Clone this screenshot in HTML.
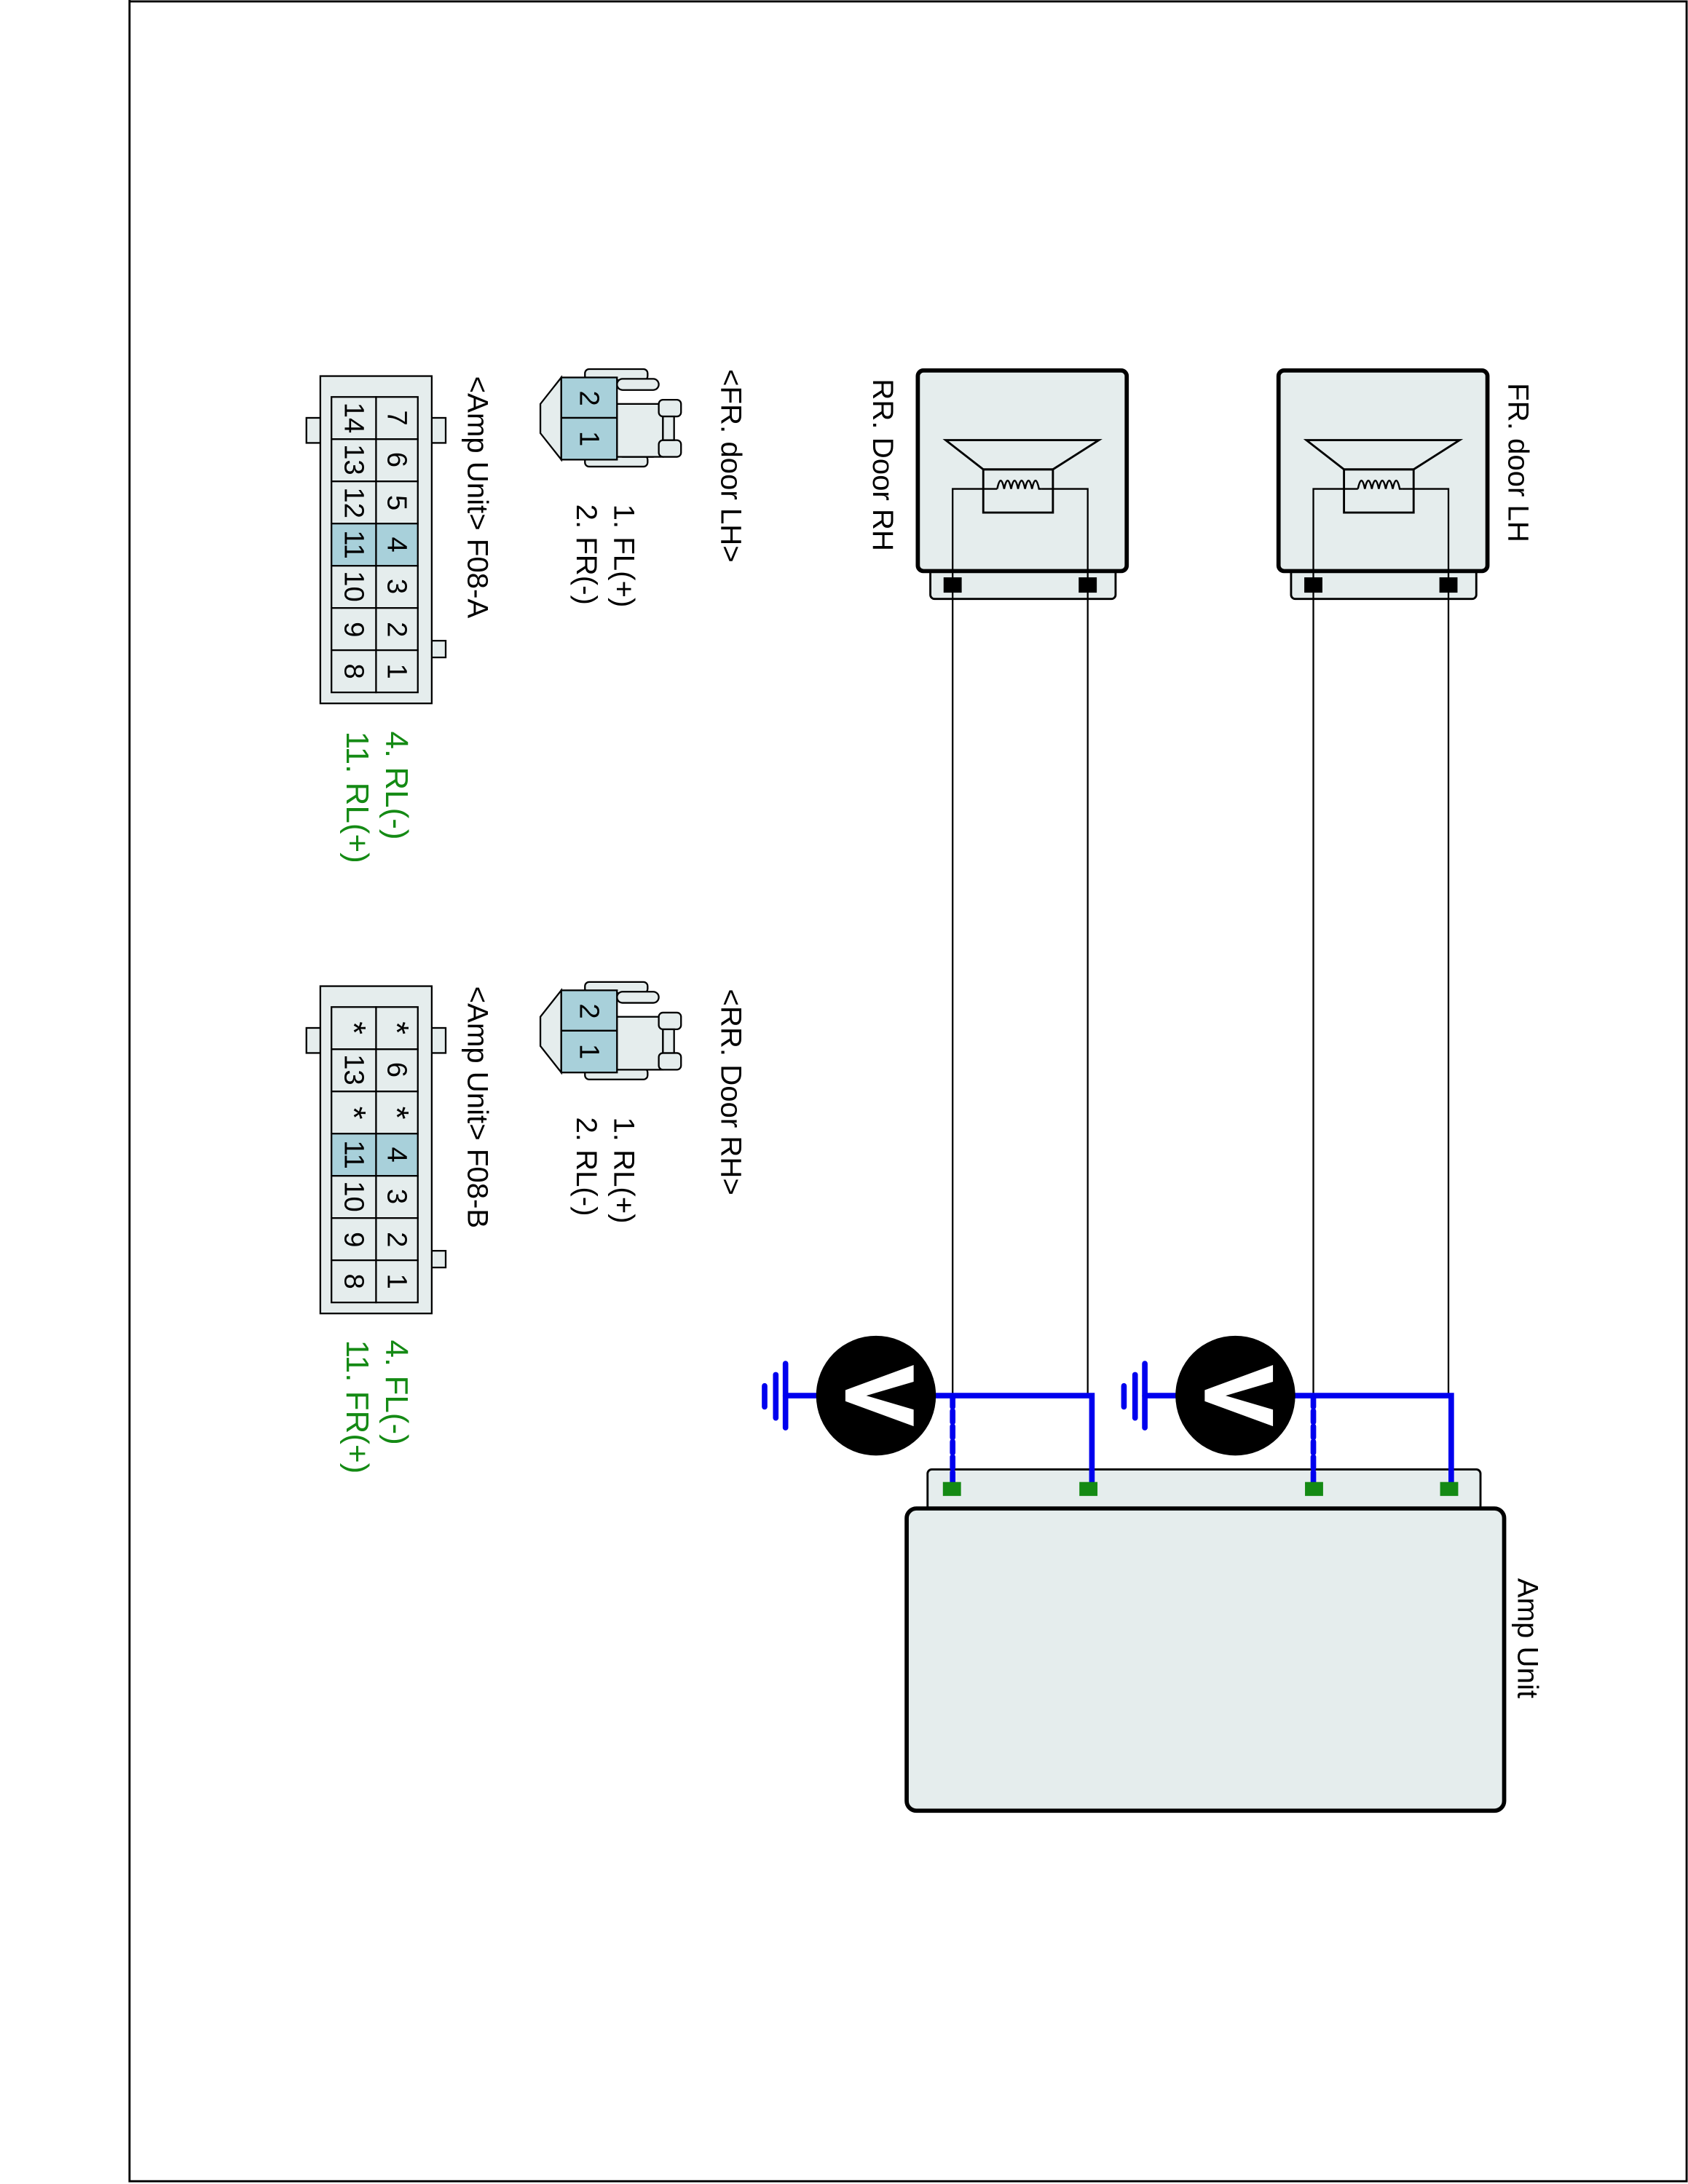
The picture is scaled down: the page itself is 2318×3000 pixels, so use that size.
<!DOCTYPE html>
<html><head><meta charset="utf-8"><style>html,body{margin:0;padding:0;background:#fff}svg{display:block}text{font-family:"Liberation Sans",Arial,sans-serif}</style></head>
<body>
<svg width="2318" height="3000" viewBox="0 0 1212 1568" preserveAspectRatio="none" xmlns="http://www.w3.org/2000/svg">
<rect x="0" y="0" width="1212" height="1568" fill="#fff"/>
<polyline points="93,0 93,1566 1211,1566 1211,1 93,1" fill="none" stroke="#000" stroke-width="1.5"/>

<g id="spk" stroke="#000">
<rect x="927" y="405" width="133" height="25" rx="3" fill="#e5eded" stroke-width="1.5"/>
<rect x="918" y="266" width="150" height="144" rx="4" fill="#e5eded" stroke-width="3"/>
<rect x="937" y="415" width="12" height="10" fill="#000"/>
<rect x="1034" y="415" width="12" height="10" fill="#000"/>
<polygon points="938,316 1048,316 1015,337 965,337" fill="none" stroke-width="1.5"/>
<rect x="965" y="337" width="50" height="31" fill="none" stroke-width="1.5"/>
<polyline points="943,420 943,351 975,351" fill="none" stroke-width="1.2"/>
<polyline points="1040,420 1040,351 1007,351" fill="none" stroke-width="1.2"/>
<path d="M975,351 q2.5,-12 5,0 q2.5,-12 5,0 q2.5,-12 5,0 q2.5,-12 5,0 q2.5,-12 5,0 q2.5,-12 5,0 h2" fill="none" stroke-width="1.3"/>
</g>
<use href="#spk" transform="translate(-259,0)"/>

<g stroke="#000" stroke-width="1.2">
<line x1="943" y1="425" x2="943" y2="1002"/><line x1="1040" y1="425" x2="1040" y2="1002"/>
<line x1="684" y1="425" x2="684" y2="1002"/><line x1="781" y1="425" x2="781" y2="1002"/>
</g>

<rect x="666" y="1055" width="397" height="30" rx="3" fill="#e5eded" stroke="#000" stroke-width="1.5"/>
<rect x="651" y="1083" width="429" height="217" rx="7" fill="#e5eded" stroke="#000" stroke-width="3"/>

<g stroke="#0000ee" stroke-width="4" fill="none" stroke-linecap="round">
<polyline points="930,1002 1042,1002 1042,1068"/>
<line x1="943" y1="1002" x2="943" y2="1068" stroke-dasharray="8,3"/>
<line x1="822" y1="1002" x2="845" y2="1002"/>
<line x1="822" y1="979" x2="822" y2="1025"/><line x1="815" y1="987" x2="815" y2="1018"/><line x1="807" y1="995" x2="807" y2="1010"/>
<polyline points="671,1002 784,1002 784,1068"/>
<line x1="684" y1="1002" x2="684" y2="1068" stroke-dasharray="8,3"/>
<line x1="564" y1="1002" x2="587" y2="1002"/>
<line x1="564" y1="979" x2="564" y2="1025"/><line x1="557" y1="987" x2="557" y2="1018"/><line x1="549" y1="995" x2="549" y2="1010"/>
</g>
<ellipse cx="887" cy="1002" rx="43" ry="43" fill="#000"/>
<ellipse cx="629" cy="1002" rx="43" ry="43" fill="#000"/>
<polygon points="914,980 914,992 880,1002 914,1012 914,1024 865,1006 865,998" fill="#fff"/>
<polygon points="656,980 656,992 622,1002 656,1012 656,1024 607,1006 607,998" fill="#fff"/>

<g fill="#148a14">
<rect x="677" y="1064" width="13" height="10"/><rect x="775" y="1064" width="13" height="10"/>
<rect x="937" y="1064" width="13" height="10"/><rect x="1034" y="1064" width="13" height="10"/>
</g>

<g font-size="21" fill="#000">
<text transform="translate(1083,275) rotate(90)">FR. door LH</text>
<text transform="translate(627,272) rotate(90)">RR. Door RH</text>
<text transform="translate(1090,1133) rotate(90)">Amp Unit</text>
<text transform="translate(518,265) rotate(90)">&lt;FR. door LH&gt;</text>
<text transform="translate(441,362) rotate(90)">1. FL(+)</text>
<text transform="translate(414,362) rotate(90)">2. FR(-)</text>
<text transform="translate(336,270) rotate(90)">&lt;Amp Unit&gt; F08-A</text>
<text transform="translate(518,710) rotate(90)">&lt;RR. Door RH&gt;</text>
<text transform="translate(441,802) rotate(90)">1. RL(+)</text>
<text transform="translate(414,802) rotate(90)">2. RL(-)</text>
<text transform="translate(336,708) rotate(90)">&lt;Amp Unit&gt; F08-B</text>
</g>
<g font-size="23" fill="#148a14">
<text transform="translate(277,525) rotate(90)">4. RL(-)</text>
<text transform="translate(249,525) rotate(90)">11. RL(+)</text>
<text transform="translate(277,962) rotate(90)">4. FL(-)</text>
<text transform="translate(249,962) rotate(90)">11. FR(+)</text>
</g>

<g id="c2" stroke="#000" stroke-width="1.2">
<rect x="420" y="265" width="45" height="8" rx="3" fill="#e5eded"/>
<rect x="420" y="327" width="45" height="8" rx="3" fill="#e5eded"/>
<rect x="443" y="272" width="30" height="8" rx="4" fill="#e5eded"/>
<rect x="443" y="320" width="30" height="8" rx="4" fill="#e5eded"/>
<rect x="443" y="290" width="33" height="38" fill="#e5eded"/>
<rect x="473" y="287" width="16" height="12" rx="3" fill="#e5eded"/>
<rect x="473" y="316" width="16" height="12" rx="3" fill="#e5eded"/>
<rect x="476" y="299" width="8" height="17" fill="#e5eded"/>
<polygon points="403,271 388,290 388,311 403,330" fill="#e5eded"/>
<rect x="403" y="271" width="40" height="29" fill="#a8d0da"/>
<rect x="403" y="300" width="40" height="30" fill="#a8d0da"/>
</g>
<use href="#c2" transform="translate(0,440)"/>
<g font-size="20" fill="#000" text-anchor="middle" dominant-baseline="central">
<text transform="translate(423,286) rotate(90)">2</text>
<text transform="translate(423,315) rotate(90)">1</text>
<text transform="translate(423,726) rotate(90)">2</text>
<text transform="translate(423,755) rotate(90)">1</text>
</g>

<g id="c14" stroke="#000" stroke-width="1.2" fill="#e5eded">
<rect x="220" y="300" width="12" height="18"/>
<rect x="308" y="300" width="12" height="18"/>
<rect x="308" y="460" width="12" height="12"/>
<rect x="230" y="270" width="80" height="235"/>
<rect x="238" y="285" width="62" height="212" stroke="none"/>
</g>
<use href="#c14" transform="translate(0,438)"/>

<g stroke="#000" stroke-width="1.2" font-size="20" text-anchor="middle" dominant-baseline="central">
<g>
<rect x="270" y="285" width="30" height="30.3" fill="#e5eded"/><rect x="238" y="285" width="32" height="30.3" fill="#e5eded"/>
<rect x="270" y="315.3" width="30" height="30.3" fill="#e5eded"/><rect x="238" y="315.3" width="32" height="30.3" fill="#e5eded"/>
<rect x="270" y="345.6" width="30" height="30.3" fill="#e5eded"/><rect x="238" y="345.6" width="32" height="30.3" fill="#e5eded"/>
<rect x="270" y="375.9" width="30" height="30.3" fill="#a8d0da"/><rect x="238" y="375.9" width="32" height="30.3" fill="#a8d0da"/>
<rect x="270" y="406.2" width="30" height="30.3" fill="#e5eded"/><rect x="238" y="406.2" width="32" height="30.3" fill="#e5eded"/>
<rect x="270" y="436.5" width="30" height="30.3" fill="#e5eded"/><rect x="238" y="436.5" width="32" height="30.3" fill="#e5eded"/>
<rect x="270" y="466.8" width="30" height="30.3" fill="#e5eded"/><rect x="238" y="466.8" width="32" height="30.3" fill="#e5eded"/>
</g>
<g transform="translate(0,438)">
<rect x="270" y="285" width="30" height="30.3" fill="#e5eded"/><rect x="238" y="285" width="32" height="30.3" fill="#e5eded"/>
<rect x="270" y="315.3" width="30" height="30.3" fill="#e5eded"/><rect x="238" y="315.3" width="32" height="30.3" fill="#e5eded"/>
<rect x="270" y="345.6" width="30" height="30.3" fill="#e5eded"/><rect x="238" y="345.6" width="32" height="30.3" fill="#e5eded"/>
<rect x="270" y="375.9" width="30" height="30.3" fill="#a8d0da"/><rect x="238" y="375.9" width="32" height="30.3" fill="#a8d0da"/>
<rect x="270" y="406.2" width="30" height="30.3" fill="#e5eded"/><rect x="238" y="406.2" width="32" height="30.3" fill="#e5eded"/>
<rect x="270" y="436.5" width="30" height="30.3" fill="#e5eded"/><rect x="238" y="436.5" width="32" height="30.3" fill="#e5eded"/>
<rect x="270" y="466.8" width="30" height="30.3" fill="#e5eded"/><rect x="238" y="466.8" width="32" height="30.3" fill="#e5eded"/>
</g>
<g stroke="none" fill="#000">
<text transform="translate(285,300) rotate(90)">7</text><text transform="translate(254,300) rotate(90)">14</text>
<text transform="translate(285,330) rotate(90)">6</text><text transform="translate(254,330) rotate(90)">13</text>
<text transform="translate(285,361) rotate(90)">5</text><text transform="translate(254,361) rotate(90)">12</text>
<text transform="translate(285,391) rotate(90)">4</text><text transform="translate(254,391) rotate(90)">11</text>
<text transform="translate(285,421) rotate(90)">3</text><text transform="translate(254,421) rotate(90)">10</text>
<text transform="translate(285,452) rotate(90)">2</text><text transform="translate(254,452) rotate(90)">9</text>
<text transform="translate(285,482) rotate(90)">1</text><text transform="translate(254,482) rotate(90)">8</text>
<text transform="translate(285,738) rotate(90)" font-size="24">*</text><text transform="translate(254,738) rotate(90)" font-size="24">*</text>
<text transform="translate(285,768) rotate(90)">6</text><text transform="translate(254,768) rotate(90)">13</text>
<text transform="translate(285,799) rotate(90)" font-size="24">*</text><text transform="translate(254,799) rotate(90)" font-size="24">*</text>
<text transform="translate(285,829) rotate(90)">4</text><text transform="translate(254,829) rotate(90)">11</text>
<text transform="translate(285,859) rotate(90)">3</text><text transform="translate(254,859) rotate(90)">10</text>
<text transform="translate(285,890) rotate(90)">2</text><text transform="translate(254,890) rotate(90)">9</text>
<text transform="translate(285,920) rotate(90)">1</text><text transform="translate(254,920) rotate(90)">8</text>
</g>
</g>
</svg>
</body></html>
